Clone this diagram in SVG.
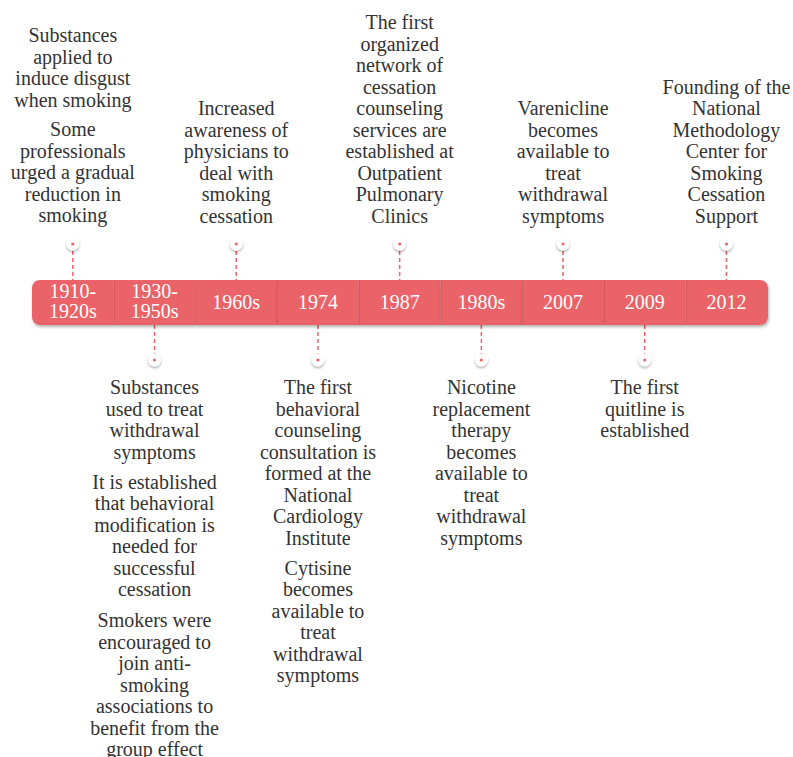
<svg xmlns="http://www.w3.org/2000/svg" width="793" height="757" viewBox="0 0 793 757">
<defs>
<filter id="sh" x="-10%" y="-20%" width="130%" height="160%">
<feDropShadow dx="1" dy="2" stdDeviation="1.5" flood-color="#000" flood-opacity="0.3"/>
</filter>
<filter id="dsh" x="-50%" y="-50%" width="200%" height="200%">
<feDropShadow dx="0" dy="1.5" stdDeviation="1.2" flood-color="#000" flood-opacity="0.35"/>
</filter>
<style>
.seg{fill:#EA6468;filter:url(#sh)}
.lbl{font-family:'Liberation Serif','Tinos','Times New Roman','Noto Serif','DejaVu Serif',serif;font-size:20px;fill:#fff;text-anchor:middle}
.txt{font-family:'Liberation Serif','Tinos','Times New Roman','Noto Serif','DejaVu Serif',serif;font-size:20px;fill:#333;text-anchor:middle}
.dash{stroke:#EA6468;stroke-width:1.5;stroke-dasharray:4 3;fill:none}
.dot{fill:#fff;filter:url(#dsh)}
.pip{fill:#EA6468}
.div{stroke:#000;stroke-opacity:0.12;stroke-width:1}
</style>
</defs>
<g id="connectors">
<line class="dash" x1="72.85" y1="251" x2="72.85" y2="280"/>
<line class="dash" x1="154.55" y1="325" x2="154.55" y2="354"/>
<line class="dash" x1="236.25" y1="251" x2="236.25" y2="280"/>
<line class="dash" x1="317.95" y1="325" x2="317.95" y2="354"/>
<line class="dash" x1="399.65" y1="251" x2="399.65" y2="280"/>
<line class="dash" x1="481.35" y1="325" x2="481.35" y2="354"/>
<line class="dash" x1="563.05" y1="251" x2="563.05" y2="280"/>
<line class="dash" x1="644.75" y1="325" x2="644.75" y2="354"/>
<line class="dash" x1="726.45" y1="251" x2="726.45" y2="280"/>
<circle class="dot" cx="72.85" cy="244" r="6.5"/><circle class="pip" cx="72.85" cy="244" r="1.6"/>
<circle class="dot" cx="154.55" cy="360" r="6.5"/><circle class="pip" cx="154.55" cy="360" r="1.6"/>
<circle class="dot" cx="236.25" cy="244" r="6.5"/><circle class="pip" cx="236.25" cy="244" r="1.6"/>
<circle class="dot" cx="317.95" cy="360" r="6.5"/><circle class="pip" cx="317.95" cy="360" r="1.6"/>
<circle class="dot" cx="399.65" cy="244" r="6.5"/><circle class="pip" cx="399.65" cy="244" r="1.6"/>
<circle class="dot" cx="481.35" cy="360" r="6.5"/><circle class="pip" cx="481.35" cy="360" r="1.6"/>
<circle class="dot" cx="563.05" cy="244" r="6.5"/><circle class="pip" cx="563.05" cy="244" r="1.6"/>
<circle class="dot" cx="644.75" cy="360" r="6.5"/><circle class="pip" cx="644.75" cy="360" r="1.6"/>
<circle class="dot" cx="726.45" cy="244" r="6.5"/><circle class="pip" cx="726.45" cy="244" r="1.6"/>
</g>
<g id="n1">
<path class="seg" d="M40,280 H113.7 V325 H40 A8,8 0 0 1 32,317 V288 A8,8 0 0 1 40,280 Z"/>
<text class="lbl"><tspan x="72.85" y="298">1910-</tspan><tspan x="72.85" y="318">1920s</tspan></text>
<text class="txt"><tspan x="72.85" y="42">Substances</tspan><tspan x="72.85" y="63.5">applied to</tspan><tspan x="72.85" y="85">induce disgust</tspan><tspan x="72.85" y="106.5">when smoking</tspan><tspan x="72.85" y="136">Some</tspan><tspan x="72.85" y="157.5">professionals</tspan><tspan x="72.85" y="179">urged a gradual</tspan><tspan x="72.85" y="200.5">reduction in</tspan><tspan x="72.85" y="222">smoking</tspan></text>
</g>
<g id="n2">
<rect class="seg" x="113.7" y="280" width="81.7" height="45"/>
<line class="div" x1="114.2" y1="280" x2="114.2" y2="325"/>
<text class="lbl"><tspan x="154.55" y="298">1930-</tspan><tspan x="154.55" y="318">1950s</tspan></text>
<text class="txt"><tspan x="154.55" y="394">Substances</tspan><tspan x="154.55" y="415.5">used to treat</tspan><tspan x="154.55" y="437">withdrawal</tspan><tspan x="154.55" y="458.5">symptoms</tspan><tspan x="154.55" y="488.5">It is established</tspan><tspan x="154.55" y="510">that behavioral</tspan><tspan x="154.55" y="531.5">modification is</tspan><tspan x="154.55" y="553">needed for</tspan><tspan x="154.55" y="574.5">successful</tspan><tspan x="154.55" y="596">cessation</tspan><tspan x="154.55" y="627">Smokers were</tspan><tspan x="154.55" y="648.5">encouraged to</tspan><tspan x="154.55" y="670">join anti-</tspan><tspan x="154.55" y="691.5">smoking</tspan><tspan x="154.55" y="713">associations to</tspan><tspan x="154.55" y="734.5">benefit from the</tspan><tspan x="154.55" y="756">group effect</tspan></text>
</g>
<g id="n3">
<rect class="seg" x="195.4" y="280" width="81.7" height="45"/>
<line class="div" x1="195.9" y1="280" x2="195.9" y2="325"/>
<text class="lbl" x="236.25" y="309">1960s</text>
<text class="txt"><tspan x="236.25" y="115">Increased</tspan><tspan x="236.25" y="136.5">awareness of</tspan><tspan x="236.25" y="158">physicians to</tspan><tspan x="236.25" y="179.5">deal with</tspan><tspan x="236.25" y="201">smoking</tspan><tspan x="236.25" y="222.5">cessation</tspan></text>
</g>
<g id="n4">
<rect class="seg" x="277.1" y="280" width="81.7" height="45"/>
<line class="div" x1="277.6" y1="280" x2="277.6" y2="325"/>
<text class="lbl" x="317.95" y="309">1974</text>
<text class="txt"><tspan x="317.95" y="394">The first</tspan><tspan x="317.95" y="415.5">behavioral</tspan><tspan x="317.95" y="437">counseling</tspan><tspan x="317.95" y="458.5">consultation is</tspan><tspan x="317.95" y="480">formed at the</tspan><tspan x="317.95" y="501.5">National</tspan><tspan x="317.95" y="523">Cardiology</tspan><tspan x="317.95" y="544.5">Institute</tspan><tspan x="317.95" y="574.5">Cytisine</tspan><tspan x="317.95" y="596">becomes</tspan><tspan x="317.95" y="617.5">available to</tspan><tspan x="317.95" y="639">treat</tspan><tspan x="317.95" y="660.5">withdrawal</tspan><tspan x="317.95" y="682">symptoms</tspan></text>
</g>
<g id="n5">
<rect class="seg" x="358.8" y="280" width="81.7" height="45"/>
<line class="div" x1="359.3" y1="280" x2="359.3" y2="325"/>
<text class="lbl" x="399.65" y="309">1987</text>
<text class="txt"><tspan x="399.65" y="29">The first</tspan><tspan x="399.65" y="50.5">organized</tspan><tspan x="399.65" y="72">network of</tspan><tspan x="399.65" y="93.5">cessation</tspan><tspan x="399.65" y="115">counseling</tspan><tspan x="399.65" y="136.5">services are</tspan><tspan x="399.65" y="158">established at</tspan><tspan x="399.65" y="179.5">Outpatient</tspan><tspan x="399.65" y="201">Pulmonary</tspan><tspan x="399.65" y="222.5">Clinics</tspan></text>
</g>
<g id="n6">
<rect class="seg" x="440.5" y="280" width="81.7" height="45"/>
<line class="div" x1="441" y1="280" x2="441" y2="325"/>
<text class="lbl" x="481.35" y="309">1980s</text>
<text class="txt"><tspan x="481.35" y="394">Nicotine</tspan><tspan x="481.35" y="415.5">replacement</tspan><tspan x="481.35" y="437">therapy</tspan><tspan x="481.35" y="458.5">becomes</tspan><tspan x="481.35" y="480">available to</tspan><tspan x="481.35" y="501.5">treat</tspan><tspan x="481.35" y="523">withdrawal</tspan><tspan x="481.35" y="544.5">symptoms</tspan></text>
</g>
<g id="n7">
<rect class="seg" x="522.2" y="280" width="81.7" height="45"/>
<line class="div" x1="522.7" y1="280" x2="522.7" y2="325"/>
<text class="lbl" x="563.05" y="309">2007</text>
<text class="txt"><tspan x="563.05" y="115">Varenicline</tspan><tspan x="563.05" y="136.5">becomes</tspan><tspan x="563.05" y="158">available to</tspan><tspan x="563.05" y="179.5">treat</tspan><tspan x="563.05" y="201">withdrawal</tspan><tspan x="563.05" y="222.5">symptoms</tspan></text>
</g>
<g id="n8">
<rect class="seg" x="603.9" y="280" width="81.7" height="45"/>
<line class="div" x1="604.4" y1="280" x2="604.4" y2="325"/>
<text class="lbl" x="644.75" y="309">2009</text>
<text class="txt"><tspan x="644.75" y="394">The first</tspan><tspan x="644.75" y="415.5">quitline is</tspan><tspan x="644.75" y="437">established</tspan></text>
</g>
<g id="n9">
<path class="seg" d="M685.6,280 H760 A8,8 0 0 1 768,288 V317 A8,8 0 0 1 760,325 H685.6 Z"/>
<line class="div" x1="686.1" y1="280" x2="686.1" y2="325"/>
<text class="lbl" x="726.45" y="309">2012</text>
<text class="txt"><tspan x="726.45" y="93.5">Founding of the</tspan><tspan x="726.45" y="115">National</tspan><tspan x="726.45" y="136.5">Methodology</tspan><tspan x="726.45" y="158">Center for</tspan><tspan x="726.45" y="179.5">Smoking</tspan><tspan x="726.45" y="201">Cessation</tspan><tspan x="726.45" y="222.5">Support</tspan></text>
</g>
</svg>
